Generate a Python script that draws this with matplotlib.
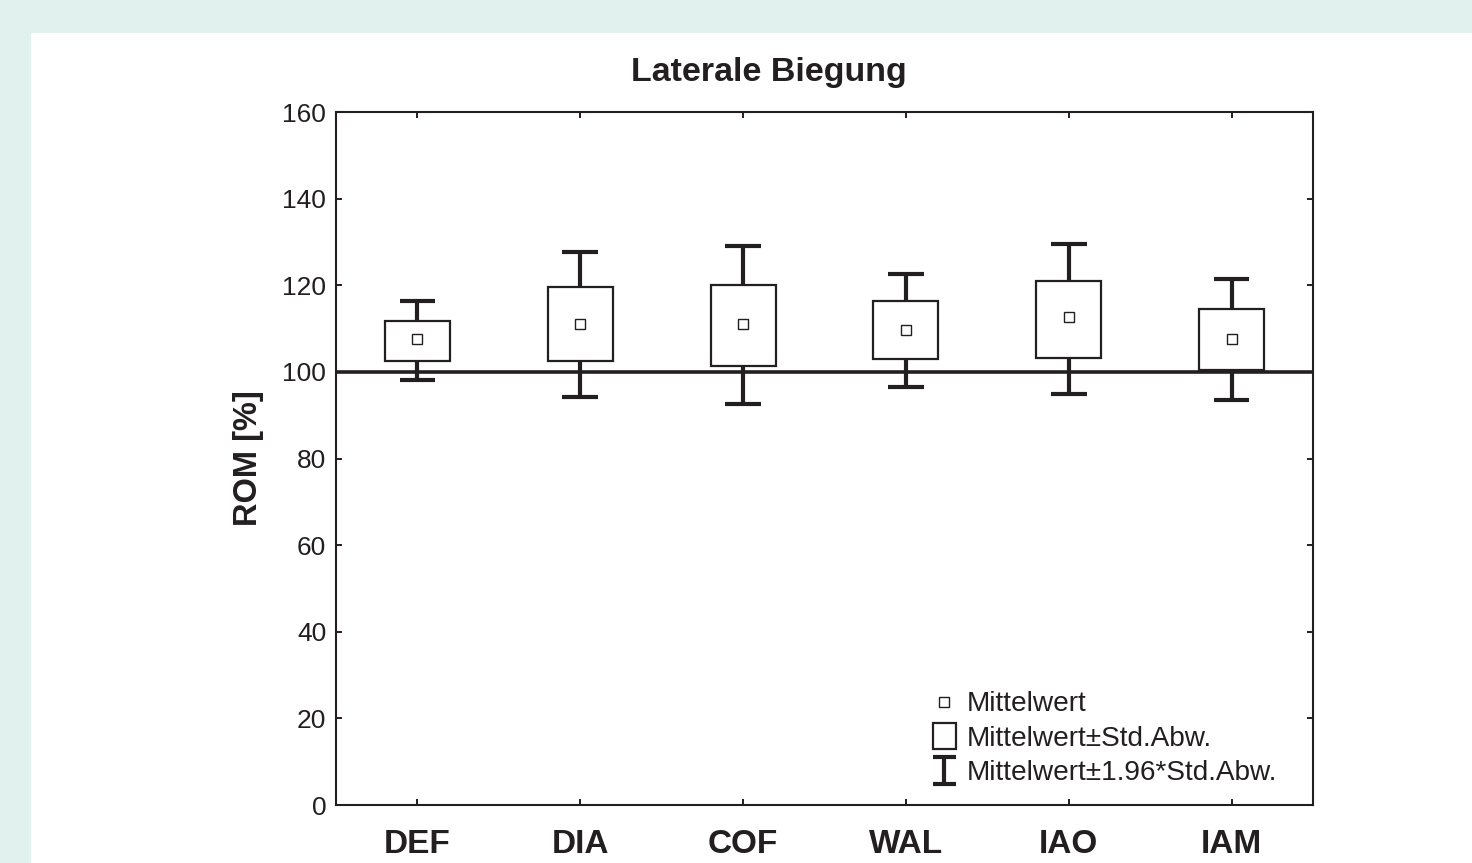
import matplotlib
matplotlib.use("Agg")
import matplotlib.pyplot as plt
from matplotlib.patches import Rectangle
from matplotlib.lines import Line2D
from matplotlib.legend_handler import HandlerBase

categories = ["DEF", "DIA", "COF", "WAL", "IAO", "IAM"]
mean = [107.6, 111.1, 111.1, 109.7, 112.6, 107.7]
sd_low = [102.5, 102.4, 101.4, 102.9, 103.3, 100.4]
sd_high = [111.8, 119.5, 120.1, 116.3, 120.9, 114.6]
ci_low = [98.1, 94.3, 92.5, 96.5, 94.8, 93.5]
ci_high = [116.4, 127.6, 129.1, 122.7, 129.5, 121.5]
yticks = [0, 20, 40, 60, 80, 100, 120, 140, 160]
reference = 100

INK = "#231f20"
FONT = "Liberation Sans"
plt.rcParams["font.family"] = [FONT, "DejaVu Sans"]

fig = plt.figure(figsize=(14.72, 8.63), dpi=100)
fig.patch.set_facecolor("#e1f1ee")
fig.add_artist(Rectangle((31 / 1472, 0), 1 - 31 / 1472, 1 - 33 / 863,
                         transform=fig.transFigure, facecolor="white",
                         edgecolor="none", zorder=0))

ax = fig.add_axes([336 / 1472, 1 - 805 / 863, (1313 - 336) / 1472, (805 - 112) / 863])
ax.set_facecolor("white")

box_w = 0.4
cap_w = 0.22
wlw = 3.0
for i, cat in enumerate(categories):
    x = i + 1
    ax.plot([x, x], [sd_high[i], ci_high[i]], color=INK, lw=wlw, zorder=2, solid_capstyle="butt")
    ax.plot([x, x], [ci_low[i], sd_low[i]], color=INK, lw=wlw, zorder=2, solid_capstyle="butt")
    ax.plot([x - cap_w / 2, x + cap_w / 2], [ci_high[i]] * 2, color=INK, lw=wlw, zorder=2, solid_capstyle="butt")
    ax.plot([x - cap_w / 2, x + cap_w / 2], [ci_low[i]] * 2, color=INK, lw=wlw, zorder=2, solid_capstyle="butt")
    ax.add_patch(Rectangle((x - box_w / 2, sd_low[i]), box_w, sd_high[i] - sd_low[i],
                           facecolor="white", edgecolor=INK, lw=1.6, zorder=3))
    ax.plot([x], [mean[i]], marker="s", ms=7.5, mfc="white", mec=INK, mew=1.0,
            ls="none", zorder=4)

ax.axhline(reference, color=INK, lw=2.6, zorder=3.5)

ax.set_xlim(0.5, 6.5)
ax.set_ylim(0, 160)
ax.set_yticks(yticks)
ax.set_xticks(range(1, len(categories) + 1))
ax.set_xticklabels(categories, fontsize=24, fontweight="bold", color=INK)
ax.tick_params(axis="y", labelsize=19, labelcolor=INK)
ax.tick_params(direction="in", length=4, width=1.4, color=INK,
               top=True, right=True, pad=7)
ax.tick_params(axis="x", pad=17)
for s in ax.spines.values():
    s.set_linewidth(1.5)
    s.set_color(INK)

ax.set_ylabel("ROM [%]", fontsize=23.5, fontweight="bold", color=INK, labelpad=13)
ax.set_title("Laterale Biegung", fontsize=24.5, fontweight="bold", color=INK,
             pad=22, x=(769 - 336) / 977)


class HandlerMean(HandlerBase):
    def create_artists(self, legend, orig_handle, xdescent, ydescent, width, height, fontsize, trans):
        cx = -xdescent + width / 2
        cy = -ydescent + height / 2
        l = Line2D([cx], [cy], marker="s", ms=7.0, mfc="white", mec=INK, mew=1.0, ls="none")
        l.set_transform(trans)
        return [l]


class HandlerBox(HandlerBase):
    def create_artists(self, legend, orig_handle, xdescent, ydescent, width, height, fontsize, trans):
        h = 19.0
        cy = -ydescent + height / 2
        r = Rectangle((-xdescent, cy - h / 2), width, h, facecolor="white", edgecolor=INK, lw=1.6)
        r.set_transform(trans)
        return [r]


class HandlerBar(HandlerBase):
    def create_artists(self, legend, orig_handle, xdescent, ydescent, width, height, fontsize, trans):
        h = 19.0
        cx = -xdescent + width / 2
        cy = -ydescent + height / 2
        arts = [
            Line2D([cx, cx], [cy - h / 2, cy + h / 2], color=INK, lw=wlw, solid_capstyle="butt"),
            Line2D([-xdescent, -xdescent + width], [cy + h / 2] * 2, color=INK, lw=wlw, solid_capstyle="butt"),
            Line2D([-xdescent, -xdescent + width], [cy - h / 2] * 2, color=INK, lw=wlw, solid_capstyle="butt"),
        ]
        for a in arts:
            a.set_transform(trans)
        return arts


class Tag:
    pass


t_mean, t_box, t_bar = Tag(), Tag(), Tag()
leg = ax.legend([t_mean, t_box, t_bar],
                ["Mittelwert", "Mittelwert±Std.Abw.", "Mittelwert±1.96*Std.Abw."],
                handler_map={t_mean: HandlerMean(), t_box: HandlerBox(), t_bar: HandlerBar()},
                loc="lower right", frameon=False, fontsize=20.2, handlelength=0.82,
                handletextpad=0.4, labelspacing=0.3, borderaxespad=0.0,
                bbox_to_anchor=(0.975, 0.011))
for t in leg.get_texts():
    t.set_color(INK)

fig.savefig("out.png", dpi=100, facecolor=fig.get_facecolor())
